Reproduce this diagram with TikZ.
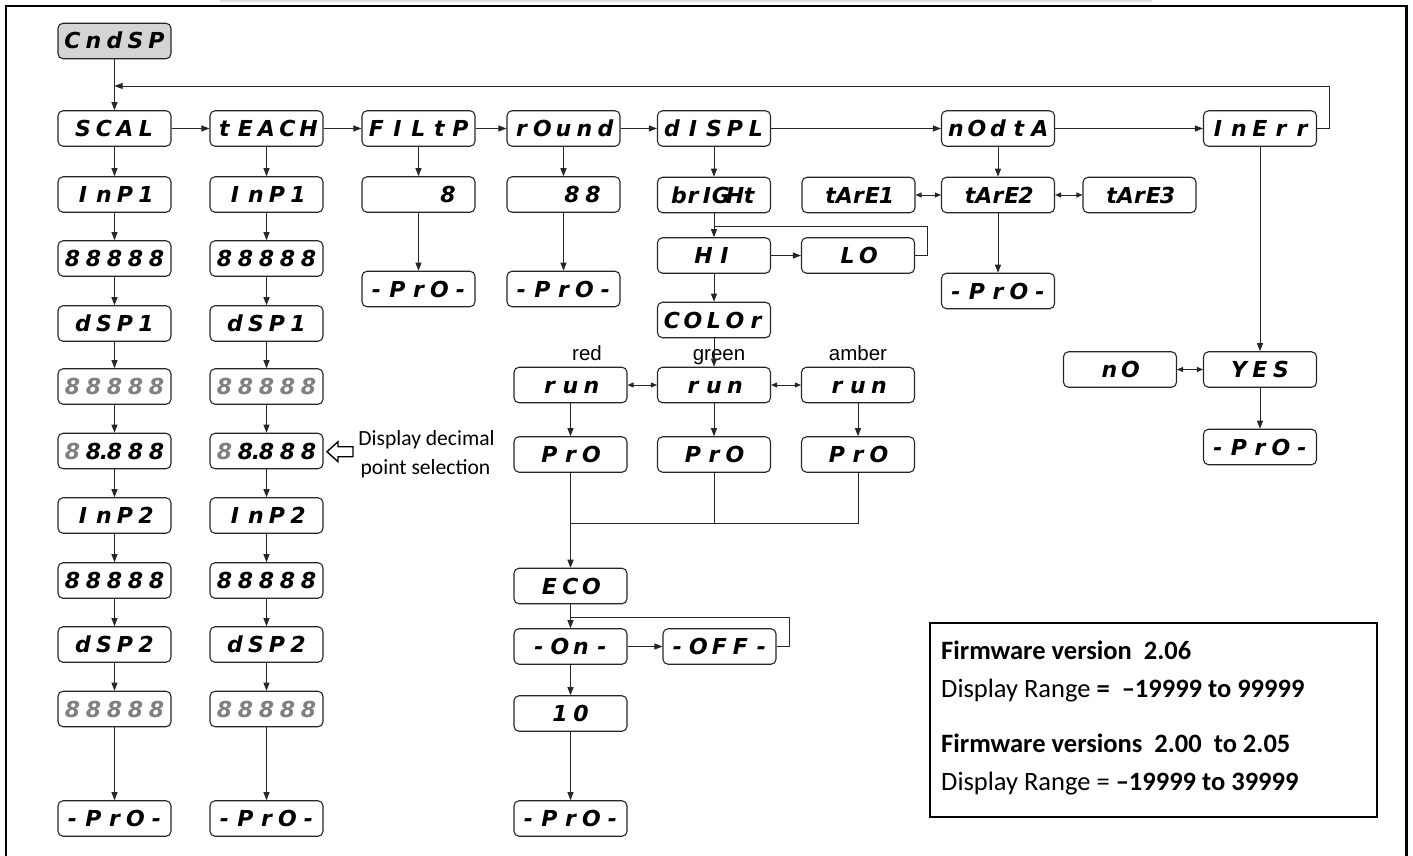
\documentclass[tikz,border=0pt]{standalone}
\usepackage{fontspec}
\setmainfont{Carlito}
\newfontfamily\segfont{DejaVu Sans}[BoldFont={DejaVu Sans Bold},ItalicFont={DejaVu Sans Oblique},BoldItalicFont={DejaVu Sans Bold Oblique}]
\newfontfamily\labelfont{Liberation Sans}
\usetikzlibrary{arrows.meta}

\definecolor{segdim}{gray}{0.5}
\definecolor{lineclr}{gray}{0.15}

% seven-segment style readout: one fixed-width cell per character,
% a decimal point takes no cell of its own
\newlength\segpitch
\setlength\segpitch{21pt}
\def\segrun#1{\ifx#1\relax\else\ifx#1.\makebox[0pt]{.}\else\makebox[\segpitch]{#1}\fi\expandafter\segrun\fi}
\newcommand\seg[1]{\segrun#1\relax}
\newcommand\gseg[1]{{\color{segdim}\seg{#1}}}
\newcommand\segc[1]{{\setlength\segpitch{14pt}\seg{#1}}}
\newcommand\segtext{\segfont\bfseries\itshape\fontsize{22}{22}\selectfont}

\tikzset{
  box/.style={draw=lineclr, line width=1.1pt, rounded corners=5pt,
    minimum width=113pt, minimum height=35.5pt, inner sep=0pt,
    text height=16pt, text depth=0pt, font=\segtext},
  ln/.style={draw=lineclr, line width=0.9pt},
  arr/.style={ln, -{Triangle[length=8pt,width=6pt]}},
  dbl/.style={ln, {Triangle[length=6pt,width=5pt]}-{Triangle[length=6pt,width=5pt]}},
  lbl/.style={font=\labelfont\fontsize{20.5}{20.5}\selectfont, anchor=base, inner sep=0pt},
  note/.style={font=\fontsize{21.6}{21.6}\selectfont, anchor=base, inner sep=0pt},
  fwline/.style={font=\fontsize{26.5}{26.5}\selectfont, anchor=base west, inner sep=0pt},
}

\begin{document}
\begin{tikzpicture}[x=1pt,y=-1pt]
\useasboundingbox (0,0) rectangle (1413,856);

% page frame
\fill[black!13] (220,0) rectangle (1152,2.3);
\draw[line width=2.4pt] (6,856) -- (6,6) -- (1406.5,6) -- (1406.5,856);

% entry
\node[box, fill=black!17] (cnd) at (114.5,41) {\seg{CndSP}};

% top-level menu
\node[box] (scal)  at (114.5,128.5) {\seg{SCAL}};
\node[box] (teach) at (266.5,128.5) {\seg{tEACH}};
\node[box] (filt)  at (418.5,128.5) {\seg{FILtP}};
\node[box] (round) at (563.5,128.5) {\seg{rOund}};
\node[box] (displ) at (714,128.5)   {\seg{dISPL}};
\node[box] (nodta) at (998,128.5)   {\seg{nOdtA}};
\node[box] (inerr) at (1260,128.5)  {\seg{InErr}};

% scaling
\node[box] (a1)  at (114.5,194.5) {\seg{InP1}};
\node[box] (a2)  at (114.5,258.5) {\seg{88888}};
\node[box] (a3)  at (114.5,323.5) {\seg{dSP1}};
\node[box] (a4)  at (114.5,386.5) {\gseg{88888}};
\node[box] (a5)  at (114.5,451)   {\gseg{8}\seg{8.888}};
\node[box] (a6)  at (114.5,515.5) {\seg{InP2}};
\node[box] (a7)  at (114.5,580.5) {\seg{88888}};
\node[box] (a8)  at (114.5,644.5) {\seg{dSP2}};
\node[box] (a9)  at (114.5,709)   {\gseg{88888}};
\node[box] (a10) at (114.5,818.5) {\seg{-PrO-}};

% teach
\node[box] (b1)  at (266.5,194.5) {\seg{InP1}};
\node[box] (b2)  at (266.5,258.5) {\seg{88888}};
\node[box] (b3)  at (266.5,323.5) {\seg{dSP1}};
\node[box] (b4)  at (266.5,386.5) {\gseg{88888}};
\node[box] (b5)  at (266.5,451)   {\gseg{8}\seg{8.888}};
\node[box] (b6)  at (266.5,515.5) {\seg{InP2}};
\node[box] (b7)  at (266.5,580.5) {\seg{88888}};
\node[box] (b8)  at (266.5,644.5) {\seg{dSP2}};
\node[box] (b9)  at (266.5,709)   {\gseg{88888}};
\node[box] (b10) at (266.5,818.5) {\seg{-PrO-}};

% filter and rounding
\node[box] (f1) at (418.5,194.5) {\makebox[80pt][r]{\seg{8}}};
\node[box] (f2) at (418.5,289)   {\seg{-PrO-}};
\node[box] (r1) at (563.5,194.5) {\makebox[80pt][r]{\seg{88}}};
\node[box] (r2) at (563.5,289)   {\seg{-PrO-}};

% display
\node[box] (bri)  at (714,195)   {\segc{brIGHt}};
\node[box] (hi)   at (714,255.5) {\seg{HI}};
\node[box] (lo)   at (858,255.5) {\seg{LO}};
\node[box] (col)  at (714,320)   {\seg{COLOr}};
\node[box] (runr) at (570.5,385) {\seg{run}};
\node[box] (rung) at (714,385)   {\seg{run}};
\node[box] (runa) at (858,385)   {\seg{run}};
\node[box] (pror) at (570.5,454.5) {\seg{PrO}};
\node[box] (prog) at (714,454.5)   {\seg{PrO}};
\node[box] (proa) at (858,454.5)   {\seg{PrO}};
\node[lbl] (lred)   at (587,360) {red};
\node[lbl] (lgreen) at (719,360) {green};
\node[lbl] (lamber) at (858,360) {amber};

% eco mode
\node[box] (eco)    at (570.5,586)   {\seg{ECO}};
\node[box] (on)     at (570.5,646.5) {\seg{-On-}};
\node[box] (off)    at (719.5,646.5) {\seg{-OFF-}};
\node[box] (ten)    at (570.5,713.5) {\seg{10}};
\node[box] (ecopro) at (570.5,818.5) {\seg{-PrO-}};

% tare
\node[box] (t1)   at (858.5,195)  {\segc{tArE1}};
\node[box] (t2)   at (998,195)    {\segc{tArE2}};
\node[box] (t3)   at (1139.5,195) {\segc{tArE3}};
\node[box] (tpro) at (998,291)    {\seg{-PrO-}};

% input error
\node[box] (yes)  at (1260,369.5) {\seg{YES}};
\node[box] (no)   at (1120,369.5) {\seg{nO}};
\node[box] (ypro) at (1260,447)   {\seg{-PrO-}};

% decimal point remark
\node[note] (dec1) at (426.5,445.7) {Display decimal};
\node[note] (dec2) at (425.5,474.5) {point selection};
\draw[line width=1.4pt, line join=miter] (327,451.7) -- (338,441.7) -- (338,446.7) -- (353,446.7)
  -- (353,456.7) -- (338,456.7) -- (338,461.7) -- cycle;

% firmware notes
\node[draw, line width=2.4pt, minimum width=447pt, minimum height=194pt, inner sep=0pt] (fw) at (1153.5,720) {};
\node[fwline] (fw1) at (941,659.3) {\bfseries Firmware version\ \ 2.06};
\node[fwline] (fw2) at (941,697.3) {Display Range \textbf{=\ \ –19999 to 99999}};
\node[fwline] (fw3) at (941,752.7) {\bfseries Firmware versions\ \ 2.00\ \ to 2.05};
\node[fwline] (fw4) at (941,790)   {Display Range = \textbf{–19999 to 39999}};

% connectors: top level
\draw[arr] (cnd) -- (scal);
\coordinate (loopR) at (1329,86);
\coordinate (loopL) at (114.5,86);
\draw[arr] (inerr.east) -| (loopR) -- (loopL);
\draw[arr] (scal) -- (teach);
\draw[arr] (teach) -- (filt);
\draw[arr] (filt) -- (round);
\draw[arr] (round) -- (displ);
\draw[arr] (displ) -- (nodta);
\draw[arr] (nodta) -- (inerr);

% scaling / teach chains
\draw[arr] (scal) -- (a1);
\draw[arr] (a1) -- (a2);
\draw[arr] (a2) -- (a3);
\draw[arr] (a3) -- (a4);
\draw[arr] (a4) -- (a5);
\draw[arr] (a5) -- (a6);
\draw[arr] (a6) -- (a7);
\draw[arr] (a7) -- (a8);
\draw[arr] (a8) -- (a9);
\draw[arr] (a9) -- (a10);
\draw[arr] (teach) -- (b1);
\draw[arr] (b1) -- (b2);
\draw[arr] (b2) -- (b3);
\draw[arr] (b3) -- (b4);
\draw[arr] (b4) -- (b5);
\draw[arr] (b5) -- (b6);
\draw[arr] (b6) -- (b7);
\draw[arr] (b7) -- (b8);
\draw[arr] (b8) -- (b9);
\draw[arr] (b9) -- (b10);

% filter / rounding
\draw[arr] (filt) -- (f1);
\draw[arr] (f1) -- (f2);
\draw[arr] (round) -- (r1);
\draw[arr] (r1) -- (r2);

% display branch
\draw[arr] (displ) -- (bri);
\draw[arr] (bri) -- (hi);
\draw[arr] (hi) -- (lo);
\coordinate (hij) at (714,226);
\coordinate (lor) at (927,226);
\draw[ln] (lo.east) -| (lor) -- (hij);
\draw[arr] (hi) -- (col);
\draw[arr] (col) -- (rung);
\draw[dbl] (runr) -- (rung);
\draw[dbl] (rung) -- (runa);
\draw[arr] (runr) -- (pror);
\draw[arr] (rung) -- (prog);
\draw[arr] (runa) -- (proa);
\coordinate (mr) at (570.5,523);
\coordinate (mg) at (714,523);
\coordinate (ma) at (858,523);
\draw[ln] (proa) -- (ma) -- (mr);
\draw[ln] (prog) -- (mg);
\draw[ln] (pror) -- (mr);
\draw[arr, line width=1.3pt] (mr) -- (eco);

% eco branch
\draw[arr] (eco) -- (on);
\draw[arr] (on) -- (off);
\coordinate (offr) at (789,617);
\coordinate (onj) at (570.5,617);
\draw[ln] (off.east) -| (offr) -- (onj);
\draw[arr] (on) -- (ten);
\draw[arr] (ten) -- (ecopro);

% tare branch
\draw[arr] (nodta) -- (t2);
\draw[dbl] (t1) -- (t2);
\draw[dbl] (t2) -- (t3);
\draw[arr] (t2) -- (tpro);

% input error branch
\draw[arr] (inerr) -- (yes);
\draw[dbl] (no) -- (yes);
\draw[arr] (yes) -- (ypro);
\end{tikzpicture}
\end{document}
